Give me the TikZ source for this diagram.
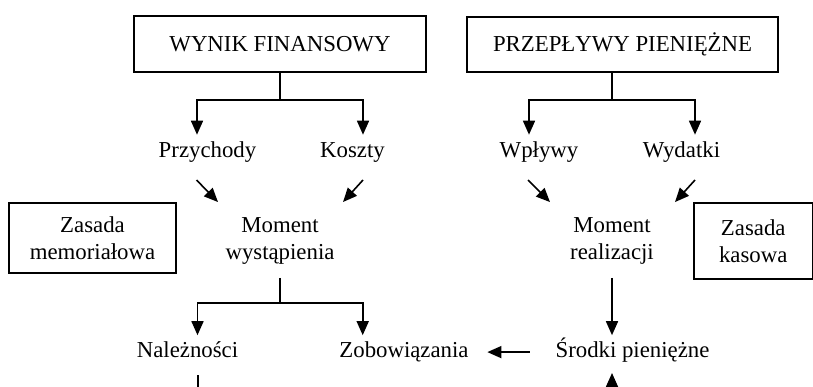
\documentclass[tikz,border=0pt]{standalone}
\usepackage{fontspec}
\setmainfont{Liberation Serif}
\usepackage{tikz}
\usetikzlibrary{arrows.meta}
\tikzset{>={Triangle[length=14pt,width=12pt]}}
\tikzset{%
    txt/.style={inner sep=0pt, font=\fontsize{22.8}{26.5}\selectfont},
    word/.style={txt, anchor=base, text height=0.7em, text depth=0.22em},
    lbox/.style={txt, draw, line width=1.4pt, align=center}
}

\begin{document}
\begin{tikzpicture}[x=1pt,y=-1pt,line width=1.6pt]
    \useasboundingbox (0,0) rectangle (813,386);
    \node[lbox, minimum width=292, minimum height=56] (wf) at (280,44) {WYNIK FINANSOWY};
    \node[lbox, minimum width=311, minimum height=55] (pp) at (622.5,44.5) {PRZEPŁYWY PIENIĘŻNE};
    \node[word] (prz) at (207.5,157.5) {Przychody};
    \node[word] (kos) at (352.5,157.5) {Koszty};
    \node[word] (wpl) at (539,157.5) {Wpływy};
    \node[word] (wyd) at (681.5,157.5) {Wydatki};
    \node[lbox, minimum width=167, minimum height=70] (zm) at (92.5,238) {Zasada\\memoriałowa};
    \node[txt, align=center] (mw) at (280,241) {Moment\\wystąpienia};
    \node[txt, align=center] (mr) at (612,241) {Moment\\realizacji};
    \node[lbox, minimum width=118.5, minimum height=76] (zk) at (753.25,241) {Zasada\\kasowa};
    \node[word] (nal) at (187.5,357) {Należności};
    \node[word] (zob) at (404,357) {Zobowiązania};
    \node[word] (sr) at (632.5,357) {Środki pieniężne};
    \coordinate (n) at (198,400);
    \coordinate (s) at (612,400);

    \draw (wf.south) -- ++(0,27) coordinate (a);
    \draw[->] (a) -| ([xshift=-10.5pt,yshift=15pt]prz.north);
    \draw[->] (a) -| ([xshift=10.5pt,yshift=15pt]kos.north);
    \draw ([xshift=-10.5pt]pp.south) -- ++(0,27) coordinate (b);
    \draw[->] (b) -| ([xshift=-10pt,yshift=15pt]wpl.north);
    \draw[->] (b) -| ([xshift=13.5pt,yshift=15pt]wyd.north);

    \draw[->] ([xshift=-11pt,yshift=-19.5pt]prz.south) -- ([xshift=-62pt,yshift=15pt]mw.north);
    \draw[->] ([xshift=10.5pt,yshift=-19.5pt]kos.south) -- ([xshift=63pt,yshift=15pt]mw.north);
    \draw[->] ([xshift=-11pt,yshift=-19.5pt]wpl.south) -- ([xshift=-62pt,yshift=15pt]mr.north);
    \draw[->] ([xshift=13.5pt,yshift=-19.5pt]wyd.south) -- ([xshift=63pt,yshift=15pt]mr.north);

    \draw ([yshift=-13pt]mw.south) -- ++(0,25) coordinate (c);
    \draw[->] (c) -| ([xshift=10pt,yshift=14pt]nal.north);
    \draw[->] (c) -| ([xshift=-41.3pt,yshift=14pt]zob.north);
    \draw[->] ([yshift=-13pt]mr.south) -- ([xshift=-20.5pt,yshift=14pt]sr.north);
    \draw[->] ([xshift=-25pt,yshift=2.5pt]sr.west) -- ([xshift=18pt,yshift=2.5pt]zob.east);

    \draw ([xshift=10.5pt,yshift=-15pt]nal.south) -- (n);
    \draw[->] (s) -- ([xshift=-20.5pt,yshift=-13pt]sr.south);
\end{tikzpicture}
\end{document}
